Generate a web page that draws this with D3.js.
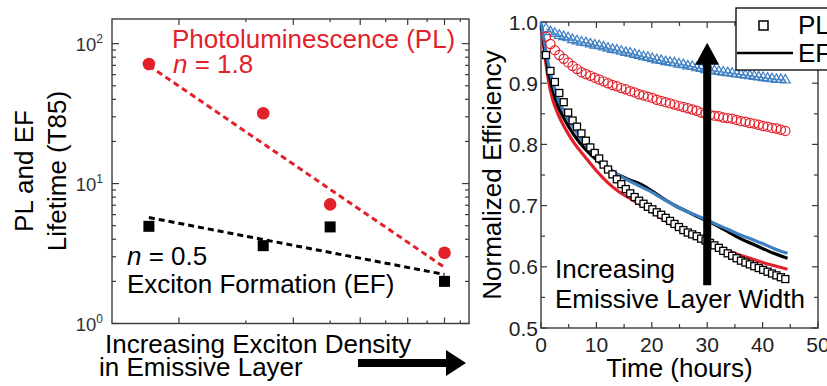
<!DOCTYPE html>
<html lang="en">
<head>
  <meta charset="UTF-8">
  <script type="text/javascript" src="https://cdn.jsdelivr.net/npm/d3@7"></script>
  <title>lifetime</title>
  <style>
    body { margin: 0; background: #fff; }
    svg { display: block; font-family: "Liberation Sans", Arial, Helvetica, sans-serif; }
  </style>
</head>
<body>
  <svg class="svg" width="827" height="386"></svg>
  <script>
    // ---- left panel: lifetime vs exciton density (log-log)
    const density = [1.667, 3.333, 5, 10]
    const plLife = [71.6, 31.8, 7.1, 3.2]
    const efLife = [4.95, 3.6, 4.9, 2.0]
    const fitX = [1.667, 10]
    const plFit = [69.6, 2.52]
    const efFit = [5.72, 2.24]
    const lifeTicks = [1, 10, 100]
    const lifeExp = ["0", "1", "2"]

    // ---- right panel: normalized efficiency vs time
    const hours = [0.9, 1.7, 2.5, 3.3, 4.1, 4.9, 5.7, 6.5, 7.3, 8.1, 8.9, 9.7, 10.5, 11.3, 12.1, 12.9, 13.7, 14.5,
      15.3, 16.1, 16.9, 17.7, 18.5, 19.3, 20.1, 20.9, 21.7, 22.5, 23.3, 24.1, 24.9, 25.7, 26.5, 27.3, 28.1, 28.9,
      29.7, 30.5, 31.3, 32.1, 32.9, 33.7, 34.5, 35.3, 36.1, 36.9, 37.7, 38.5, 39.3, 40.1, 40.9, 41.7, 42.5, 43.3, 44.1]
    const plSquare = [0.946, 0.920, 0.902, 0.884, 0.869, 0.852, 0.839, 0.829, 0.818, 0.806, 0.795, 0.786, 0.777, 0.767,
      0.759, 0.751, 0.743, 0.735, 0.727, 0.720, 0.714, 0.708, 0.703, 0.698, 0.694, 0.689, 0.685, 0.680, 0.675, 0.670,
      0.665, 0.660, 0.656, 0.653, 0.650, 0.646, 0.643, 0.639, 0.635, 0.631, 0.626, 0.622, 0.618, 0.614, 0.610, 0.607,
      0.604, 0.601, 0.598, 0.595, 0.592, 0.589, 0.586, 0.583, 0.580]
    const plCircle = [0.976, 0.964, 0.954, 0.946, 0.940, 0.934, 0.928, 0.923, 0.918, 0.915, 0.912, 0.909, 0.906, 0.903,
      0.900, 0.897, 0.895, 0.892, 0.890, 0.887, 0.885, 0.882, 0.880, 0.878, 0.876, 0.873, 0.871, 0.869, 0.867, 0.865,
      0.863, 0.861, 0.859, 0.857, 0.855, 0.852, 0.850, 0.848, 0.847, 0.846, 0.844, 0.843, 0.842, 0.840, 0.838, 0.837,
      0.835, 0.834, 0.832, 0.830, 0.829, 0.827, 0.826, 0.824, 0.822]
    const plTriangle = [0.989, 0.984, 0.981, 0.978, 0.976, 0.974, 0.971, 0.969, 0.967, 0.966, 0.964, 0.962, 0.961, 0.959,
      0.957, 0.955, 0.954, 0.952, 0.950, 0.949, 0.947, 0.945, 0.943, 0.942, 0.940, 0.938, 0.937, 0.935, 0.934, 0.933,
      0.931, 0.930, 0.928, 0.927, 0.925, 0.924, 0.922, 0.921, 0.920, 0.919, 0.918, 0.917, 0.916, 0.915, 0.914, 0.913,
      0.912, 0.911, 0.910, 0.909, 0.908, 0.907, 0.906, 0.906, 0.905]
    const lineHours = [0, 0.3, 0.6, 1, 1.5, 2, 3, 4, 5, 6, 8, 10, 12, 14, 16, 18, 20, 22, 24, 26, 28, 30, 32, 34, 36,
      38, 40, 42, 44.5]
    const efRed = [0.99, 0.975, 0.952, 0.925, 0.897, 0.877, 0.851, 0.832, 0.816, 0.802, 0.779, 0.757, 0.738, 0.723,
      0.712, 0.701, 0.690, 0.678, 0.666, 0.657, 0.648, 0.640, 0.632, 0.625, 0.619, 0.613, 0.607, 0.602, 0.596]
    const efBlack = [0.995, 0.98, 0.96, 0.937, 0.912, 0.893, 0.864, 0.845, 0.829, 0.815, 0.792, 0.775, 0.760, 0.750,
      0.742, 0.735, 0.724, 0.712, 0.701, 0.692, 0.683, 0.675, 0.666, 0.656, 0.646, 0.638, 0.630, 0.622, 0.614]
    const efBlue = [1.0, 0.985, 0.968, 0.947, 0.924, 0.905, 0.876, 0.856, 0.840, 0.826, 0.800, 0.780, 0.763, 0.750,
      0.740, 0.731, 0.722, 0.711, 0.701, 0.692, 0.684, 0.676, 0.668, 0.660, 0.652, 0.645, 0.638, 0.630, 0.622]
    const effTicks = [0.5, 0.6, 0.7, 0.8, 0.9, 1.0]
    const timeTicks = [0, 10, 20, 30, 40, 50]

    const red = "#e3212a"
    const blue = "#3d7fc2"
    const frameCol = "#3a3a3a"
    const big = 26

    let svg = d3.select(".svg")

    // ================= left panel =================
    let xL = d3.scaleLog().domain([1.333, 11.6]).range([112, 469])
    let yL = d3.scaleLog().domain([1, 150]).range([323.5, 19])

    let left = svg.append("g")

    // x ticks (no labels) on bottom and top, long on even values
    let xMinor = d3.range(2, 12)
    let tk = left.append("g").attr("stroke", frameCol).attr("stroke-width", 1.2)
    xMinor.forEach(v => {
      let len = v % 2 == 0 ? 6 : 3
      tk.append("line").attr("x1", xL(v)).attr("x2", xL(v)).attr("y1", yL.range()[0]).attr("y2", yL.range()[0] - len)
      tk.append("line").attr("x1", xL(v)).attr("x2", xL(v)).attr("y1", yL.range()[1]).attr("y2", yL.range()[1] + len)
    })
    // y ticks both sides
    let yMinor = []
    ;[1, 10, 100].forEach(d => d3.range(2, 10).forEach(k => { if (d * k < 150) yMinor.push(d * k) }))
    lifeTicks.concat(yMinor).forEach(v => {
      let len = lifeTicks.includes(v) ? 7 : 4
      tk.append("line").attr("x1", 112).attr("x2", 112 + len).attr("y1", yL(v)).attr("y2", yL(v))
      tk.append("line").attr("x1", 469).attr("x2", 469 - len).attr("y1", yL(v)).attr("y2", yL(v))
    })
    left.append("rect")
      .attr("x", 112).attr("y", 19).attr("width", 357).attr("height", yL.range()[0] - 19)
      .attr("fill", "none").attr("stroke", frameCol).attr("stroke-width", 1.4)

    // tick labels 10^n
    let lab = left.append("g").attr("fill", "#333").attr("text-anchor", "end")
    lifeTicks.forEach((v, i) => {
      let t = lab.append("text").attr("x", 103).attr("y", yL(v) + 7).attr("font-size", 18.5)
      t.append("tspan").text("10")
      t.append("tspan").attr("dy", -8).attr("font-size", 12).text(lifeExp[i])
    })

    // fit lines
    let fitLine = d3.line().x(d => xL(d[0])).y(d => yL(d[1]))
    left.append("path")
      .attr("d", fitLine(d3.zip(fitX, plFit)))
      .attr("fill", "none").attr("stroke", red).attr("stroke-width", 3).attr("stroke-dasharray", "6,4")
    left.append("path")
      .attr("d", fitLine(d3.zip(fitX, efFit)))
      .attr("fill", "none").attr("stroke", "#000").attr("stroke-width", 3).attr("stroke-dasharray", "6,4")

    // data points
    left.append("g").selectAll("circle")
      .data(d3.zip(density, plLife))
      .join("circle")
      .attr("cx", d => xL(d[0])).attr("cy", d => yL(d[1])).attr("r", 6.3)
      .attr("fill", red)
    left.append("g").selectAll("rect")
      .data(d3.zip(density, efLife))
      .join("rect")
      .attr("x", d => xL(d[0]) - 5.5).attr("y", d => yL(d[1]) - 5.5)
      .attr("width", 11).attr("height", 11).attr("fill", "#000")

    // annotations
    let pl = left.append("g").attr("fill", red).attr("font-size", big)
    pl.append("text").attr("x", 172).attr("y", 48).text("Photoluminescence (PL)")
    let pn = pl.append("text").attr("x", 173).attr("y", 73)
    pn.append("tspan").attr("font-style", "italic").text("n")
    pn.append("tspan").text(" = 1.8")
    let ef = left.append("g").attr("fill", "#000").attr("font-size", big)
    let en = ef.append("text").attr("x", 127).attr("y", 265)
    en.append("tspan").attr("font-style", "italic").text("n")
    en.append("tspan").text(" = 0.5")
    ef.append("text").attr("x", 127).attr("y", 293).text("Exciton Formation (EF)")

    // axis titles
    left.append("text")
      .attr("transform", "translate(33,171) rotate(-90)")
      .attr("text-anchor", "middle").attr("font-size", big).text("PL and EF")
    left.append("text")
      .attr("transform", "translate(66,171) rotate(-90)")
      .attr("text-anchor", "middle").attr("font-size", big).text("Lifetime (T85)")
    left.append("text").attr("x", 105).attr("y", 353).attr("font-size", big).text("Increasing Exciton Density")
    left.append("text").attr("x", 99).attr("y", 376).attr("font-size", big).text("in Emissive Layer")

    // arrow under the x axis
    left.append("path")
      .attr("d", "M358,359 L446,359 L446,350 L466,363 L446,376 L446,367 L358,367 Z")
      .attr("fill", "#000")

    // ================= right panel =================
    let xR = d3.scaleLinear().domain([0, 50]).range([541, 818])
    let yR = d3.scaleLinear().domain([0.5, 1.0]).range([328, 22])

    let right = svg.append("g")
    let rt = right.append("g").attr("stroke", frameCol).attr("stroke-width", 1.2)
    d3.range(0, 51, 5).forEach(v => {
      let len = v % 10 == 0 ? 6 : 4
      rt.append("line").attr("x1", xR(v)).attr("x2", xR(v)).attr("y1", 328).attr("y2", 328 - len)
      rt.append("line").attr("x1", xR(v)).attr("x2", xR(v)).attr("y1", 22).attr("y2", 22 + len)
    })
    d3.range(0, 11).map(k => 0.5 + k * 0.05).forEach((v, k) => {
      let len = k % 2 == 0 ? 6 : 4
      rt.append("line").attr("x1", 541).attr("x2", 541 + len).attr("y1", yR(v)).attr("y2", yR(v))
      rt.append("line").attr("x1", 818).attr("x2", 818 - len).attr("y1", yR(v)).attr("y2", yR(v))
    })
    right.append("rect")
      .attr("x", 541).attr("y", 22).attr("width", 277).attr("height", 306)
      .attr("fill", "none").attr("stroke", frameCol).attr("stroke-width", 1.4)

    right.append("g").attr("font-size", 21).attr("fill", "#222").attr("text-anchor", "end")
      .selectAll("text").data(effTicks).join("text")
      .attr("x", 538).attr("y", d => yR(d)).attr("dy", "0.36em")
      .text(d => d.toFixed(1))
    right.append("g").attr("font-size", 21).attr("fill", "#222").attr("text-anchor", "middle")
      .selectAll("text").data(timeTicks).join("text")
      .attr("x", d => xR(d)).attr("y", 352)
      .text(d => d)

    // EF lines
    let effLine = d3.line().x(d => xR(d[0])).y(d => yR(d[1])).curve(d3.curveMonotoneX)
    right.append("path").attr("d", effLine(d3.zip(hours, plTriangle)))
      .attr("fill", "none").attr("stroke", blue).attr("stroke-width", 1.5).attr("opacity", 0.8)
    ;[[efRed, red], [efBlack, "#000"], [efBlue, blue]].forEach(s => {
      right.append("path").attr("d", effLine(d3.zip(lineHours, s[0])))
        .attr("fill", "none").attr("stroke", s[1]).attr("stroke-width", 3.2)
    })

    // PL markers
    right.append("g").selectAll("path")
      .data(d3.zip(hours, plTriangle))
      .join("path")
      .attr("transform", d => `translate(${xR(d[0])},${yR(d[1])})`)
      .attr("d", d3.symbol(d3.symbolTriangle, 42))
      .attr("fill", "none").attr("stroke", blue).attr("stroke-width", 1.2)
    right.append("g").selectAll("circle")
      .data(d3.zip(hours, plCircle))
      .join("circle")
      .attr("cx", d => xR(d[0])).attr("cy", d => yR(d[1])).attr("r", 4.6)
      .attr("fill", "none").attr("stroke", red).attr("stroke-width", 1.2)
    right.append("g").selectAll("rect")
      .data(d3.zip(hours, plSquare))
      .join("rect")
      .attr("x", d => xR(d[0]) - 3.5).attr("y", d => yR(d[1]) - 3.5)
      .attr("width", 7).attr("height", 7)
      .attr("fill", "#fff").attr("stroke", "#000").attr("stroke-width", 1.3)

    // big arrow
    let ax = xR(30)
    right.append("path")
      .attr("d", `M${ax - 4},${yR(0.57)} L${ax - 4},${yR(0.93)} L${ax - 12},${yR(0.93)} L${ax},${yR(0.966)}`
        + ` L${ax + 12},${yR(0.93)} L${ax + 4},${yR(0.93)} L${ax + 4},${yR(0.57)} Z`)
      .attr("fill", "#000")

    right.append("text").attr("x", 555).attr("y", 278).attr("font-size", big).text("Increasing")
    right.append("text").attr("x", 555).attr("y", 308).attr("font-size", big).text("Emissive Layer Width")

    right.append("text")
      .attr("transform", "translate(501,175) rotate(-90)")
      .attr("text-anchor", "middle").attr("font-size", big).text("Normalized Efficiency")
    right.append("text").attr("x", xR(25)).attr("y", 377)
      .attr("text-anchor", "middle").attr("font-size", big).text("Time (hours)")

    // legend (runs off the right edge)
    let lg = svg.append("g")
    lg.append("rect").attr("x", 736).attr("y", 8).attr("width", 120).attr("height", 62)
      .attr("fill", "#fff").attr("stroke", "#000").attr("stroke-width", 1.3)
    lg.append("rect").attr("x", 759).attr("y", 21).attr("width", 9).attr("height", 9)
      .attr("fill", "#fff").attr("stroke", "#000").attr("stroke-width", 1.5)
    lg.append("line").attr("x1", 737).attr("x2", 793).attr("y1", 53).attr("y2", 53)
      .attr("stroke", "#000").attr("stroke-width", 2.5)
    lg.append("text").attr("x", 798).attr("y", 34).attr("font-size", big).text("PL")
    lg.append("text").attr("x", 798).attr("y", 62).attr("font-size", big).text("EF")
  </script>
</body>
</html>
